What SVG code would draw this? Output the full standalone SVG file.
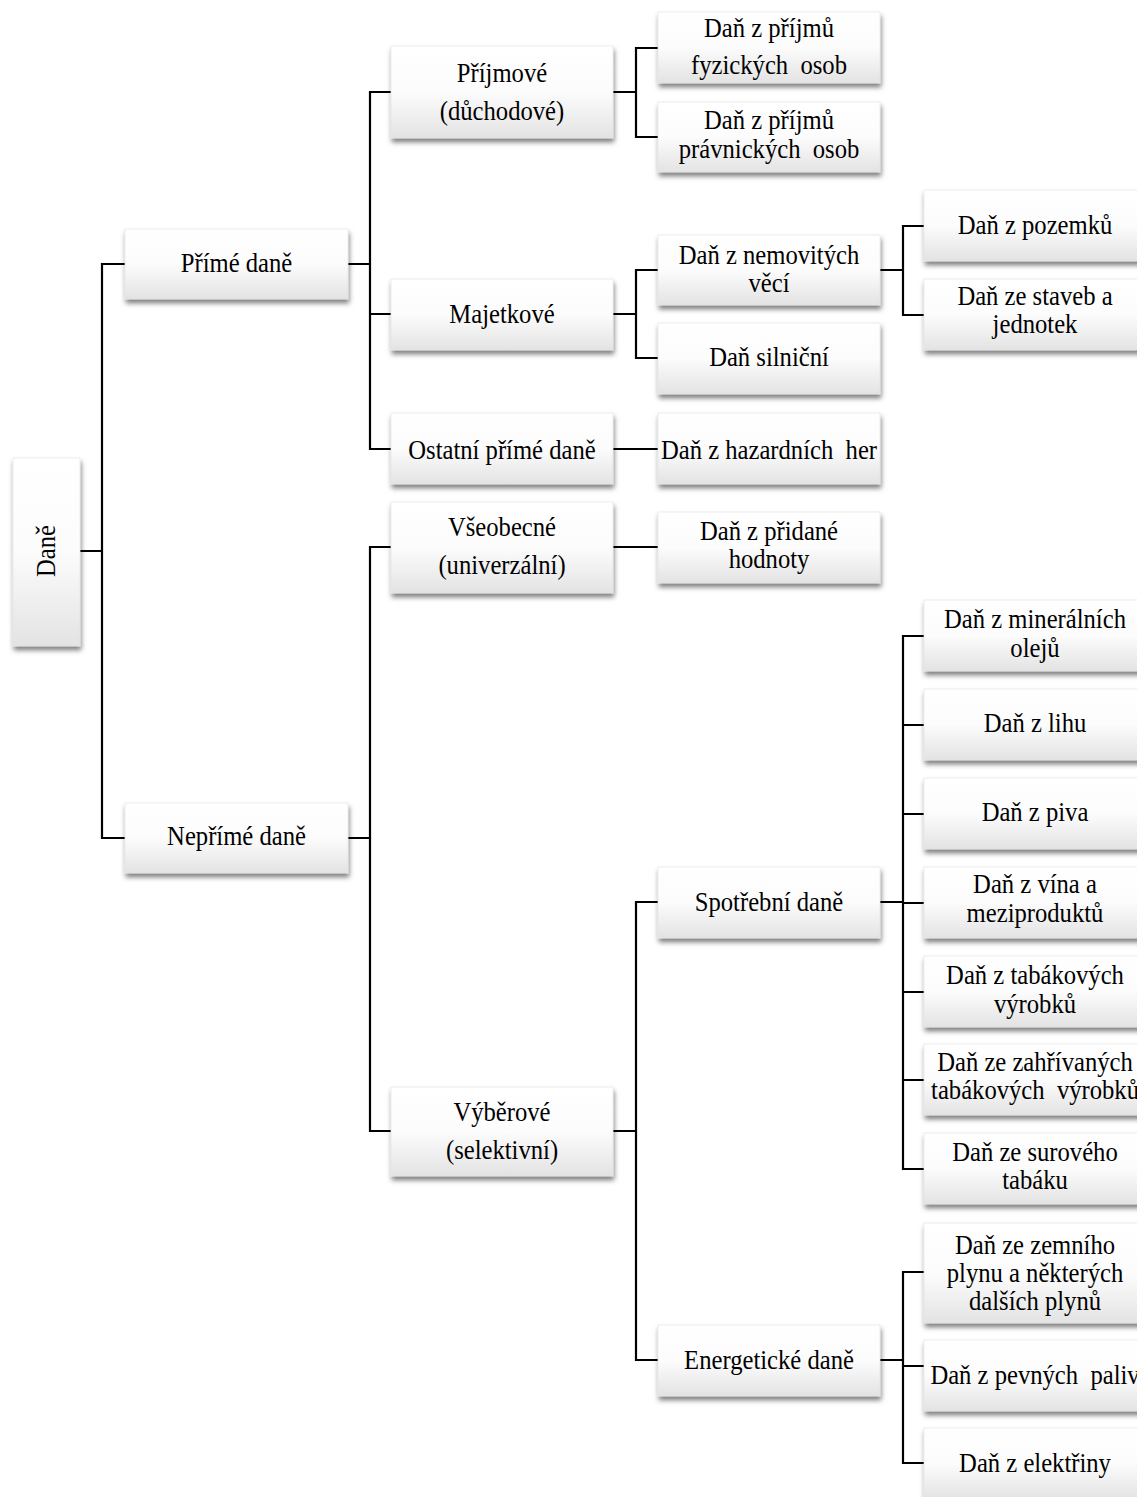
<svg xmlns="http://www.w3.org/2000/svg" width="1137" height="1497" viewBox="0 0 1137 1497">
<defs>
<linearGradient id="g" x1="0" y1="0" x2="0" y2="1">
<stop offset="0" stop-color="#ffffff"/>
<stop offset="0.5" stop-color="#fcfcfc"/>
<stop offset="1" stop-color="#e3e3e3"/>
</linearGradient>
<filter id="sh" x="-10%" y="-20%" width="120%" height="150%">
<feDropShadow dx="1" dy="4" stdDeviation="2.5" flood-color="#000" flood-opacity="0.5"/>
</filter>
</defs>
<style>
.box{fill:url(#g);filter:url(#sh);stroke:#e2e2e2;stroke-width:0.6}
.t{font-size:28px;text-anchor:middle;fill:#000;white-space:pre}
.c{stroke:#000;stroke-width:2.2;fill:none;stroke-linecap:square}
</style>
<rect width="1137" height="1497" fill="#fff"/>
<g id="connectors">
<path class="c" d="M80 551H102M102 264V838M102 264H125M102 838H125"/>
<path class="c" d="M348 264H370M370 92V449M370 92H391M370 314H391M370 449H391"/>
<path class="c" d="M348 838H370M370 547V1131M370 547H391M370 1131H391"/>
<path class="c" d="M613 92H636M636 48V137M636 48H658M636 137H658"/>
<path class="c" d="M613 314H636M636 270V358M636 270H658M636 358H658"/>
<path class="c" d="M613 449H658"/>
<path class="c" d="M613 547H658"/>
<path class="c" d="M613 1131H636M636 902V1360M636 902H658M636 1360H658"/>
<path class="c" d="M880 270H903M903 226V315M903 226H924M903 315H924"/>
<path class="c" d="M880 902H903M903 636V1169M903 636H924M903 725H924M903 814H924M903 903H924M903 992H924M903 1080H924M903 1169H924"/>
<path class="c" d="M880 1360H903M903 1272V1463M903 1272H924M903 1366H924M903 1463H924"/>
</g>
<g id="n-dane"><rect class="box" x="13" y="458" width="67" height="188"/><text class="t" font-family="Liberation Serif" transform="translate(55,551) rotate(-90) scale(0.88,1)" x="0" y="0">Daně</text></g>
<g id="n-prime"><rect class="box" x="125" y="229" width="223" height="70"/><text class="t" font-family="Liberation Serif" transform="translate(236.5,0) scale(0.88,1)"><tspan x="0" y="272">Přímé daně</tspan></text></g>
<g id="n-neprime"><rect class="box" x="125" y="803" width="223" height="70"/><text class="t" font-family="Liberation Serif" transform="translate(236.5,0) scale(0.88,1)"><tspan x="0" y="845">Nepřímé daně</tspan></text></g>
<g id="n-prijmove"><rect class="box" x="391" y="46" width="222" height="92"/><text class="t" font-family="Liberation Serif" transform="translate(502,0) scale(0.88,1)"><tspan x="0" y="82">Příjmové</tspan><tspan x="0" y="120">(důchodové)</tspan></text></g>
<g id="n-majetkove"><rect class="box" x="391" y="279" width="222" height="71"/><text class="t" font-family="Liberation Serif" transform="translate(502,0) scale(0.88,1)"><tspan x="0" y="323">Majetkové</tspan></text></g>
<g id="n-ostatni"><rect class="box" x="391" y="413" width="222" height="71"/><text class="t" font-family="Liberation Serif" transform="translate(502,0) scale(0.88,1)"><tspan x="0" y="459">Ostatní přímé daně</tspan></text></g>
<g id="n-vseobecne"><rect class="box" x="391" y="502" width="222" height="91"/><text class="t" font-family="Liberation Serif" transform="translate(502,0) scale(0.88,1)"><tspan x="0" y="536">Všeobecné</tspan><tspan x="0" y="574">(univerzální)</tspan></text></g>
<g id="n-vyberove"><rect class="box" x="391" y="1087" width="222" height="89"/><text class="t" font-family="Liberation Serif" transform="translate(502,0) scale(0.88,1)"><tspan x="0" y="1121">Výběrové</tspan><tspan x="0" y="1159">(selektivní)</tspan></text></g>
<g id="n-dpfo"><rect class="box" x="658" y="12" width="222" height="71"/><text class="t" font-family="Liberation Serif" transform="translate(769,0) scale(0.88,1)"><tspan x="0" y="37">Daň z příjmů</tspan><tspan x="0" y="74">fyzických  osob</tspan></text></g>
<g id="n-dppo"><rect class="box" x="658" y="102" width="222" height="70"/><text class="t" font-family="Liberation Serif" transform="translate(769,0) scale(0.88,1)"><tspan x="0" y="129">Daň z příjmů</tspan><tspan x="0" y="158">právnických  osob</tspan></text></g>
<g id="n-nemovite"><rect class="box" x="658" y="235" width="222" height="70"/><text class="t" font-family="Liberation Serif" transform="translate(769,0) scale(0.88,1)"><tspan x="0" y="264">Daň z nemovitých</tspan><tspan x="0" y="292">věcí</tspan></text></g>
<g id="n-silnicni"><rect class="box" x="658" y="323" width="222" height="71"/><text class="t" font-family="Liberation Serif" transform="translate(769,0) scale(0.88,1)"><tspan x="0" y="366">Daň silniční</tspan></text></g>
<g id="n-hazard"><rect class="box" x="658" y="413" width="222" height="71"/><text class="t" font-family="Liberation Serif" transform="translate(769,0) scale(0.88,1)"><tspan x="0" y="459">Daň z hazardních  her</tspan></text></g>
<g id="n-dph"><rect class="box" x="658" y="512" width="222" height="71"/><text class="t" font-family="Liberation Serif" transform="translate(769,0) scale(0.88,1)"><tspan x="0" y="540">Daň z přidané</tspan><tspan x="0" y="568">hodnoty</tspan></text></g>
<g id="n-spotrebni"><rect class="box" x="658" y="867" width="222" height="71"/><text class="t" font-family="Liberation Serif" transform="translate(769,0) scale(0.88,1)"><tspan x="0" y="911">Spotřební daně</tspan></text></g>
<g id="n-energeticke"><rect class="box" x="658" y="1325" width="222" height="71"/><text class="t" font-family="Liberation Serif" transform="translate(769,0) scale(0.88,1)"><tspan x="0" y="1369">Energetické daně</tspan></text></g>
<g id="n-pozemky"><rect class="box" x="924" y="190" width="222" height="71"/><text class="t" font-family="Liberation Serif" transform="translate(1035,0) scale(0.88,1)"><tspan x="0" y="234">Daň z pozemků</tspan></text></g>
<g id="n-stavby"><rect class="box" x="924" y="279" width="222" height="71"/><text class="t" font-family="Liberation Serif" transform="translate(1035,0) scale(0.88,1)"><tspan x="0" y="305">Daň ze staveb a</tspan><tspan x="0" y="333">jednotek</tspan></text></g>
<g id="n-oleje"><rect class="box" x="924" y="600" width="222" height="71"/><text class="t" font-family="Liberation Serif" transform="translate(1035,0) scale(0.88,1)"><tspan x="0" y="628">Daň z minerálních</tspan><tspan x="0" y="657">olejů</tspan></text></g>
<g id="n-lih"><rect class="box" x="924" y="689" width="222" height="71"/><text class="t" font-family="Liberation Serif" transform="translate(1035,0) scale(0.88,1)"><tspan x="0" y="732">Daň z lihu</tspan></text></g>
<g id="n-pivo"><rect class="box" x="924" y="778" width="222" height="71"/><text class="t" font-family="Liberation Serif" transform="translate(1035,0) scale(0.88,1)"><tspan x="0" y="821">Daň z piva</tspan></text></g>
<g id="n-vino"><rect class="box" x="924" y="867" width="222" height="71"/><text class="t" font-family="Liberation Serif" transform="translate(1035,0) scale(0.88,1)"><tspan x="0" y="893">Daň z vína a</tspan><tspan x="0" y="922">meziproduktů</tspan></text></g>
<g id="n-tabak"><rect class="box" x="924" y="956" width="222" height="71"/><text class="t" font-family="Liberation Serif" transform="translate(1035,0) scale(0.88,1)"><tspan x="0" y="984">Daň z tabákových</tspan><tspan x="0" y="1013">výrobků</tspan></text></g>
<g id="n-zahrivane"><rect class="box" x="924" y="1044" width="222" height="71"/><text class="t" font-family="Liberation Serif" transform="translate(1035,0) scale(0.88,1)"><tspan x="0" y="1071">Daň ze zahřívaných</tspan><tspan x="0" y="1099">tabákových  výrobků</tspan></text></g>
<g id="n-surovy"><rect class="box" x="924" y="1133" width="222" height="71"/><text class="t" font-family="Liberation Serif" transform="translate(1035,0) scale(0.88,1)"><tspan x="0" y="1161">Daň ze surového</tspan><tspan x="0" y="1189">tabáku</tspan></text></g>
<g id="n-plyn"><rect class="box" x="924" y="1223" width="222" height="100"/><text class="t" font-family="Liberation Serif" transform="translate(1035,0) scale(0.88,1)"><tspan x="0" y="1254">Daň ze zemního</tspan><tspan x="0" y="1282">plynu a některých</tspan><tspan x="0" y="1310">dalších plynů</tspan></text></g>
<g id="n-paliva"><rect class="box" x="924" y="1340" width="222" height="71"/><text class="t" font-family="Liberation Serif" transform="translate(1035,0) scale(0.88,1)"><tspan x="0" y="1384">Daň z pevných  paliv</tspan></text></g>
<g id="n-elektrina"><rect class="box" x="924" y="1428" width="222" height="71"/><text class="t" font-family="Liberation Serif" transform="translate(1035,0) scale(0.88,1)"><tspan x="0" y="1472">Daň z elektřiny</tspan></text></g>
</svg>
